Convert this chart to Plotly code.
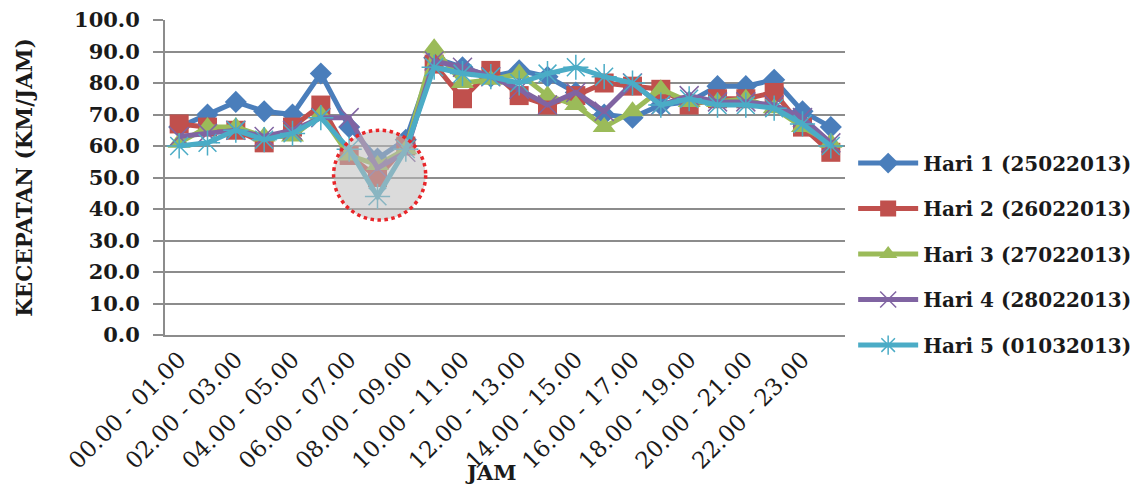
import plotly.graph_objects as go

hours = [f"{h:02d}.00 - {h+1:02d}.00" for h in range(24)]
tick_labels = hours[::2]

hari1 = [66, 70, 74, 71, 70, 83, 66, 56, 62, 88, 85, 82, 84, 82, 77, 70, 69, 73, 74, 79, 79, 81, 71, 66]
hari2 = [67, 66, 65, 61, 66, 73, 57, 50, 60, 86, 75, 84, 76, 73, 76, 80, 79, 78, 73, 75, 75, 77, 66, 58]
hari3 = [61, 66, 66, 63, 63, 70, 57, 54, 59, 91, 80, 81, 83, 76, 73, 66, 71, 78, 74, 74, 75, 72, 66, 61]
hari4 = [63, 64, 65, 63, 65, 69, 69, 53, 58, 87, 85, 82, 78, 73, 77, 71, 80, 73, 76, 74, 74, 73, 69, 61]
hari5 = [60, 61, 65, 62, 64, 69, 59, 44, 59, 85, 83, 82, 80, 83, 85, 82, 80, 73, 75, 73, 73, 72, 67, 60]

names = ["Hari 1 (25022013)", "Hari 2 (26022013)", "Hari 3 (27022013)",
         "Hari 4 (28022013)", "Hari 5 (01032013)"]
series = [hari1, hari2, hari3, hari4, hari5]
colors = ["#4A7EBB", "#C0504D", "#9BBB59", "#8064A2", "#4BACC6"]
symbols = ["diamond", "square", "triangle-up", "x-thin-open", "asterisk-open"]
msizes = [17, 19, 20, 19, 21]

fig = go.Figure()
for i, (nm, ys, c, s, ms) in enumerate(zip(names, series, colors, symbols, msizes)):
    marker = dict(symbol=s, size=ms, color=c)
    if "open" in s:
        marker["line"] = dict(color=c, width=1.5)
    fig.add_trace(go.Scatter(
        x=hours, y=ys, name=nm, mode="lines+markers",
        line=dict(color=c, width=5), marker=marker,
        legendgroup=f"g{i}",
    ))

# highlight circle around the morning dip
fig.add_shape(type="circle", xref="x", yref="y",
              x0=5.45, x1=8.7, y0=36.5, y1=65.0,
              fillcolor="rgba(190,190,190,0.55)",
              line=dict(color="#E8262A", width=3.5, dash="dot"), layer="above")

font_fam = "DejaVu Serif"
# page body has an 8px margin: figure is sized so the plot lands on the reference pixels
fig.update_layout(
    width=1137, height=478,
    margin=dict(l=157, r=300, t=12, b=151, autoexpand=False),
    paper_bgcolor="white", plot_bgcolor="white",
    font=dict(family=font_fam, color="#1a1a1a"),
    showlegend=True,
    legend=dict(x=1.012, xanchor="left", y=0.257, yanchor="middle",
                font=dict(family=font_fam, size=20, color="#1a1a1a", weight="bold"),
                tracegroupgap=16.5, itemwidth=60, bgcolor="rgba(0,0,0,0)"),
    xaxis=dict(type="category", tickmode="array", tickvals=tick_labels, ticktext=tick_labels,
               tickangle=-45, tickfont=dict(family=font_fam, size=23, color="#1a1a1a"),
               showgrid=False, showline=True, linecolor="#8C8C8C", linewidth=2,
               ticks="", range=[-0.5, 23.5], automargin=False, ticklabeloverflow="allow"),
    yaxis=dict(range=[0, 100], dtick=10, tickformat=".1f",
               tickfont=dict(family=font_fam, size=21, color="#1a1a1a", weight="bold"),
               showgrid=True, gridcolor="#8C8C8C", gridwidth=2,
               showline=True, linecolor="#8C8C8C", linewidth=2,
               ticks="outside", ticklen=10, tickcolor="#8C8C8C", tickwidth=2,
               ticklabelstandoff=9, ticklabeloverflow="allow",
               zeroline=False, automargin=False,
               title=dict(text="KECEPATAN (KM/JAM)", standoff=36,
                          font=dict(family=font_fam, size=21.5, color="#1a1a1a", weight="bold"))),
)

fig.add_annotation(text="JAM", xref="paper", yref="paper", x=0.478, y=-0.436,
                   xanchor="center", yanchor="middle", showarrow=False,
                   font=dict(family=font_fam, size=21, color="#1a1a1a", weight="bold"))

fig.write_html("out.html")
